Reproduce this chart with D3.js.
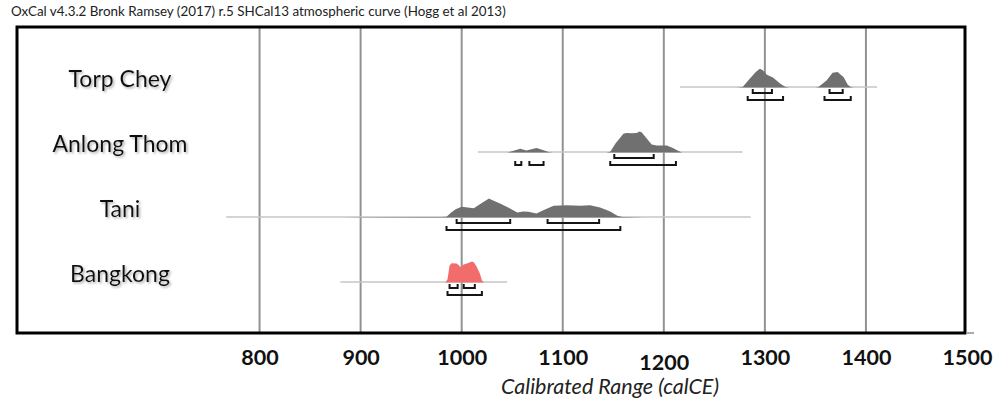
<!DOCTYPE html>
<html>
<head>
<meta charset="utf-8">
<script src="https://cdn.jsdelivr.net/npm/d3@7"></script>
<style>
  body { margin: 0; background: #fff; }
  svg { display: block; }
</style>
</head>
<body>
<svg id="chart" width="1003" height="398"></svg>
<script>
// Sites, top to bottom
const sites = ["Torp Chey", "Anlong Thom", "Tani", "Bangkong"];

// Extent of the calibrated distribution line for each site (calCE)
const spans = [[1216, 1411], [1016, 1278], [767, 1286], [880, 1045]];

// Posterior probability (relative %, peak ≈ 95) at calendar years
const torpChey = [[1272,0],[1278,2],[1285,40],[1291,70],[1295,85],[1298,78],[1302,58],[1308,45],[1315,18],[1320,3],[1324,0],
                  [1350,0],[1353,2],[1361,32],[1367,67],[1372,70],[1376,55],[1378,47],[1382,12],[1385,2],[1388,0]];
const anlongThom = [[1045,0],[1048,3],[1053,10],[1058,17],[1064,9],[1068,14],[1074,20],[1081,10],[1086,2],[1090,0],
                    [1143,0],[1147,3],[1152,40],[1160,85],[1163,89],[1168,88],[1173,89],[1176,95],[1178,92],[1188,36],
                    [1193,32],[1203,32],[1209,21],[1214,8],[1218,0]];
const tani = [[885,0],[900,1.5],[960,2],[980,2.5],[985,3],[989,20],[994,38],[1000,49],[1006,46],[1012,42],[1018,60],
              [1027,86],[1030,79],[1038,64],[1046,45],[1055,23],[1061,27],[1066,26],[1074,18],[1083,38],[1091,53],
              [1104,56],[1117,53],[1127,56],[1137,45],[1147,27],[1154,8],[1159,2],[1170,1],[1180,0]];
const bangkong = [[984,0],[986,15],[988,77],[990,88],[995,86],[997,80],[998.5,70],[1000,75],[1002,82],[1006,88],
                  [1010,95],[1012,92],[1015,70],[1018,41],[1020,10],[1022,0]];
const densities = [torpChey, anlongThom, tani, bangkong];

// 68.2% and 95.4% highest posterior density ranges
const hpd68 = [[[1288,1307],[1364,1377]], [[1151,1190]], [[995,1048],[1085,1136]], [[988,996],[1002,1013]]];
const hpd95 = [[[1283,1318],[1359,1385]], [[1053,1059],[1067,1081],[1147,1212]], [[985,1157]], [[986,1020]]];

// Axis
const tickYears = [800, 900, 1000, 1100, 1200, 1300, 1400, 1500];
const gridYears = [800, 900, 1000, 1100, 1200, 1300, 1400];
const fills = ["#707070", "#707070", "#707070", "#f36c6c"];

const svg = d3.select("#chart");
const frame = { left: 17, top: 27, right: 965, bottom: 333 };

const x = d3.scaleLinear().domain([560, 1500]).range([17, 967]);
const row = d3.scalePoint().domain(sites).range([87, 282]);
const h = d3.scaleLinear().domain([0, 100]).range([0, 22]);

const defs = svg.append("defs");
defs.append("filter").attr("id", "soft-shadow")
  .attr("x", "-10%").attr("y", "-20%").attr("width", "130%").attr("height", "160%")
  .append("feDropShadow")
  .attr("dx", 1.5).attr("dy", 1.5).attr("stdDeviation", 1)
  .attr("flood-color", "#888").attr("flood-opacity", 0.7);

// Header
svg.append("text")
  .attr("x", 11).attr("y", 16)
  .attr("font-family", "Lato, sans-serif").attr("font-size", 13.4)
  .attr("fill", "#222")
  .text("OxCal v4.3.2 Bronk Ramsey (2017) r.5 SHCal13 atmospheric curve (Hogg et al 2013)");

// Vertical grid
svg.append("g").selectAll("line").data(gridYears).join("line")
  .attr("x1", d => x(d)).attr("x2", d => x(d))
  .attr("y1", frame.top).attr("y2", frame.bottom)
  .attr("stroke", "#929292").attr("stroke-width", 2);

// Per-site rows
sites.forEach((site, i) => {
  const y0 = row(site);
  const g = svg.append("g");

  g.append("line")
    .attr("x1", x(spans[i][0])).attr("x2", x(spans[i][1]))
    .attr("y1", y0).attr("y2", y0)
    .attr("stroke", "#c6c6c6").attr("stroke-width", 1.6);

  const area = d3.area()
    .x(d => x(d[0]))
    .y0(y0 + 0.5)
    .y1(d => y0 + 0.5 - h(d[1]))
    .curve(d3.curveLinear);

  g.append("path")
    .datum(densities[i])
    .attr("d", area)
    .attr("fill", fills[i]);

  const bracket = (r, yy) => `M${x(r[0])},${yy - 4}L${x(r[0])},${yy}L${x(r[1])},${yy}L${x(r[1])},${yy - 4}`;
  g.selectAll(".r68").data(hpd68[i]).join("path")
    .attr("d", r => bracket(r, y0 + 6))
    .attr("fill", "none").attr("stroke", "#151515").attr("stroke-width", 2);
  g.selectAll(".r95").data(hpd95[i]).join("path")
    .attr("d", r => bracket(r, y0 + 13))
    .attr("fill", "none").attr("stroke", "#151515").attr("stroke-width", 2);

  g.append("text")
    .attr("x", 120).attr("y", y0)
    .attr("text-anchor", "middle")
    .attr("font-family", "Lato, sans-serif").attr("font-size", 23)
    .attr("fill", "#111")
    .attr("filter", "url(#soft-shadow)")
    .text(site);
});

// Frame
svg.append("rect")
  .attr("x", frame.left).attr("y", frame.top)
  .attr("width", frame.right - frame.left).attr("height", frame.bottom - frame.top)
  .attr("fill", "none").attr("stroke", "#000").attr("stroke-width", 3);
svg.append("line")
  .attr("x1", frame.right + 1.5).attr("x2", frame.right + 9)
  .attr("y1", frame.bottom).attr("y2", frame.bottom)
  .attr("stroke", "#aaa").attr("stroke-width", 2);

// Year labels
const axis = d3.axisBottom(x).tickValues(tickYears).tickFormat(d3.format("d")).tickSize(0).tickPadding(0);
const ag = svg.append("g").attr("transform", `translate(0,${frame.bottom})`).call(axis);
ag.select(".domain").remove();
ag.selectAll("text")
  .attr("font-family", "Lato, sans-serif").attr("font-size", 21.5).attr("font-weight", "bold")
  .attr("fill", "#111")
  .attr("dy", null)
  .attr("y", d => d === 1200 ? 37 : 32);

// Axis title
svg.append("text")
  .attr("x", 610).attr("y", 394)
  .attr("text-anchor", "middle")
  .attr("font-family", "Lato, sans-serif").attr("font-size", 21.5).attr("font-style", "italic")
  .attr("fill", "#222")
  .text("Calibrated Range (calCE)");
</script>
</body>
</html>
